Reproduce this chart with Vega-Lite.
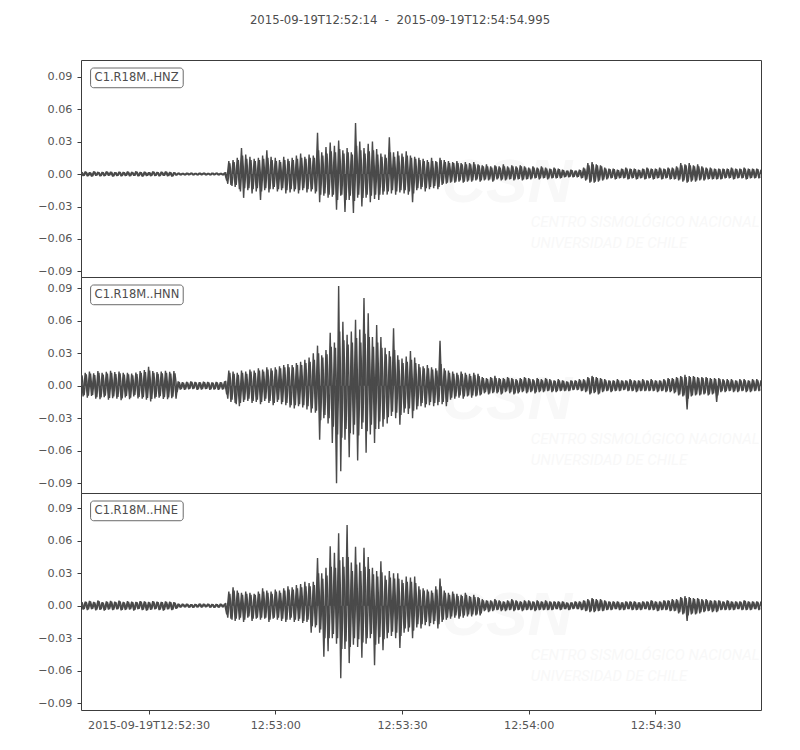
{
"$schema": "https://vega.github.io/schema/vega-lite/v6.json",
"padding": {"left": 30, "top": 14, "right": 30, "bottom": 20},
"background": "white",
"title": {"text": "2015-09-19T12:52:14\u00a0\u00a0-\u00a0\u00a02015-09-19T12:54:54.995", "font": "DejaVu Sans", "fontSize": 11.7, "fontWeight": "normal", "color": "#4d4d4d", "offset": 33, "anchor": "middle", "dx": 4},
"config": {
 "view": {"stroke": "#3c3c3c", "strokeWidth": 1},
 "axis": {"labelFont": "DejaVu Sans", "labelFontSize": 11.2, "labelColor": "#555555", "tickColor": "#3c3c3c", "tickSize": 4, "domain": false, "grid": false},
 "axisX": {"labelPadding": 5},
 "axisY": {"labelPadding": 5}
},
"spacing": 0,
"bounds": "flush",
"datasets": {"w": [
{"t":14,"z":0.002,"n":0.011,"e":0.004},
{"t":14.5,"z":-0.0018,"n":-0.010,"e":-0.0035},
{"t":15,"z":0.0022,"n":0.012,"e":0.0038},
{"t":15.5,"z":-0.002,"n":-0.011,"e":-0.004},
{"t":16,"z":0.0015,"n":0.013,"e":0.0045},
{"t":16.5,"z":-0.0022,"n":-0.0095,"e":-0.0032},
{"t":17,"z":0.0024,"n":0.0115,"e":0.0035},
{"t":17.5,"z":-0.0016,"n":-0.012,"e":-0.0042},
{"t":18,"z":0.0019,"n":0.0135,"e":0.0048},
{"t":18.5,"z":-0.0021,"n":-0.0125,"e":-0.0038},
{"t":19,"z":0.0017,"n":0.012,"e":0.0033},
{"t":19.5,"z":-0.0019,"n":-0.0105,"e":-0.0045},
{"t":20,"z":0.0023,"n":0.0128,"e":0.004},
{"t":20.5,"z":-0.0015,"n":-0.013,"e":-0.0036},
{"t":21,"z":0.002,"n":0.0138,"e":0.0044},
{"t":21.5,"z":-0.0023,"n":-0.0115,"e":-0.0041},
{"t":22,"z":0.0016,"n":0.0125,"e":0.0037},
{"t":22.5,"z":-0.0018,"n":-0.012,"e":-0.0034},
{"t":23,"z":0.0021,"n":0.013,"e":0.0046},
{"t":23.5,"z":-0.002,"n":-0.0135,"e":-0.0043},
{"t":24,"z":0.0018,"n":0.0118,"e":0.0034},
{"t":24.5,"z":-0.0017,"n":-0.0108,"e":-0.0039},
{"t":25,"z":0.0022,"n":0.012,"e":0.0041},
{"t":25.5,"z":-0.0021,"n":-0.0125,"e":-0.0035},
{"t":26,"z":0.0019,"n":0.0112,"e":0.0038},
{"t":26.5,"z":-0.0016,"n":-0.0098,"e":-0.0044},
{"t":27,"z":0.0024,"n":0.0122,"e":0.0036},
{"t":27.5,"z":-0.002,"n":-0.0118,"e":-0.0032},
{"t":28,"z":0.0017,"n":0.0135,"e":0.0042},
{"t":28.5,"z":-0.0022,"n":-0.012,"e":-0.004},
{"t":29,"z":0.0021,"n":0.0145,"e":0.0039},
{"t":29.5,"z":-0.0018,"n":-0.013,"e":-0.0046},
{"t":30,"z":0.0016,"n":0.0175,"e":0.0035},
{"t":30.5,"z":-0.0019,"n":-0.0145,"e":-0.0037},
{"t":31,"z":0.0023,"n":0.0135,"e":0.0043},
{"t":31.5,"z":-0.0017,"n":-0.0118,"e":-0.0033},
{"t":32,"z":0.0019,"n":0.0125,"e":0.0038},
{"t":32.5,"z":-0.0021,"n":-0.011,"e":-0.0041},
{"t":33,"z":0.002,"n":0.013,"e":0.0036},
{"t":33.5,"z":-0.0016,"n":-0.0122,"e":-0.0045},
{"t":34,"z":0.0022,"n":0.0138,"e":0.004},
{"t":34.5,"z":-0.0019,"n":-0.0125,"e":-0.0034},
{"t":35,"z":0.0018,"n":0.0128,"e":0.0037},
{"t":35.5,"z":-0.0022,"n":-0.0115,"e":-0.004},
{"t":36,"z":0.0015,"n":0.0135,"e":0.0032},
{"t":36.5,"z":-0.0012,"n":-0.012,"e":-0.0028},
{"t":37,"z":0.001,"n":0.004,"e":0.0018},
{"t":37.5,"z":-0.0009,"n":-0.0035,"e":-0.0015},
{"t":38,"z":0.0008,"n":0.0032,"e":0.0016},
{"t":38.5,"z":-0.001,"n":-0.0038,"e":-0.0014},
{"t":39,"z":0.0009,"n":0.0036,"e":0.0017},
{"t":39.5,"z":-0.0008,"n":-0.0033,"e":-0.0016},
{"t":40,"z":0.001,"n":0.0039,"e":0.0013},
{"t":40.5,"z":-0.0009,"n":-0.0031,"e":-0.0017},
{"t":41,"z":0.0008,"n":0.0034,"e":0.0015},
{"t":41.5,"z":-0.001,"n":-0.0037,"e":-0.0014},
{"t":42,"z":0.0009,"n":0.0033,"e":0.0018},
{"t":42.5,"z":-0.0008,"n":-0.0036,"e":-0.0015},
{"t":43,"z":0.001,"n":0.0038,"e":0.0016},
{"t":43.5,"z":-0.0009,"n":-0.0032,"e":-0.0013},
{"t":44,"z":0.0008,"n":0.0035,"e":0.0017},
{"t":44.5,"z":-0.001,"n":-0.0039,"e":-0.0016},
{"t":45,"z":0.0009,"n":0.0031,"e":0.0014},
{"t":45.5,"z":-0.0008,"n":-0.0036,"e":-0.0018},
{"t":46,"z":0.001,"n":0.0034,"e":0.0015},
{"t":46.5,"z":-0.0009,"n":-0.0038,"e":-0.0016},
{"t":47,"z":0.0008,"n":0.0033,"e":0.0017},
{"t":47.5,"z":-0.001,"n":-0.0035,"e":-0.0014},
{"t":48,"z":0.0012,"n":0.004,"e":0.0018},
{"t":48.5,"z":-0.006,"n":-0.008,"e":-0.008},
{"t":49,"z":0.012,"n":0.014,"e":0.013},
{"t":49.5,"z":-0.010,"n":-0.015,"e":-0.012},
{"t":50,"z":0.013,"n":0.013,"e":0.017},
{"t":50.5,"z":-0.012,"n":-0.016,"e":-0.014},
{"t":51,"z":0.015,"n":0.012,"e":0.014},
{"t":51.5,"z":-0.014,"n":-0.019,"e":-0.013},
{"t":52,"z":0.024,"n":0.014,"e":0.012},
{"t":52.5,"z":-0.022,"n":-0.015,"e":-0.015},
{"t":53,"z":0.018,"n":0.013,"e":0.013},
{"t":53.5,"z":-0.015,"n":-0.014,"e":-0.011},
{"t":54,"z":0.016,"n":0.015,"e":0.012},
{"t":54.5,"z":-0.018,"n":-0.016,"e":-0.014},
{"t":55,"z":0.014,"n":0.014,"e":0.011},
{"t":55.5,"z":-0.016,"n":-0.015,"e":-0.012},
{"t":56,"z":0.015,"n":0.016,"e":0.013},
{"t":56.5,"z":-0.024,"n":-0.017,"e":-0.013},
{"t":57,"z":0.017,"n":0.015,"e":0.016},
{"t":57.5,"z":-0.015,"n":-0.014,"e":-0.012},
{"t":58,"z":0.022,"n":0.017,"e":0.014},
{"t":58.5,"z":-0.017,"n":-0.016,"e":-0.015},
{"t":59,"z":0.016,"n":0.016,"e":0.013},
{"t":59.5,"z":-0.014,"n":-0.018,"e":-0.012},
{"t":60,"z":0.015,"n":0.017,"e":0.015},
{"t":60.5,"z":-0.016,"n":-0.015,"e":-0.013},
{"t":61,"z":0.013,"n":0.018,"e":0.014},
{"t":61.5,"z":-0.015,"n":-0.017,"e":-0.014},
{"t":62,"z":0.016,"n":0.019,"e":0.016},
{"t":62.5,"z":-0.018,"n":-0.018,"e":-0.015},
{"t":63,"z":0.014,"n":0.020,"e":0.018},
{"t":63.5,"z":-0.017,"n":-0.020,"e":-0.013},
{"t":64,"z":0.015,"n":0.019,"e":0.017},
{"t":64.5,"z":-0.016,"n":-0.021,"e":-0.015},
{"t":65,"z":0.017,"n":0.021,"e":0.019},
{"t":65.5,"z":-0.018,"n":-0.019,"e":-0.014},
{"t":66,"z":0.019,"n":0.022,"e":0.020},
{"t":66.5,"z":-0.015,"n":-0.020,"e":-0.016},
{"t":67,"z":0.016,"n":0.024,"e":0.022},
{"t":67.5,"z":-0.017,"n":-0.022,"e":-0.015},
{"t":68,"z":0.018,"n":0.026,"e":0.021},
{"t":68.5,"z":-0.016,"n":-0.025,"e":-0.025},
{"t":69,"z":0.017,"n":0.030,"e":0.022},
{"t":69.5,"z":-0.018,"n":-0.025,"e":-0.020},
{"t":70,"z":0.038,"n":0.037,"e":0.044},
{"t":70.5,"z":-0.026,"n":-0.050,"e":-0.025},
{"t":71,"z":0.020,"n":0.028,"e":0.030},
{"t":71.5,"z":-0.020,"n":-0.030,"e":-0.047},
{"t":72,"z":0.025,"n":0.033,"e":0.035},
{"t":72.5,"z":-0.022,"n":-0.035,"e":-0.042},
{"t":73,"z":0.029,"n":0.049,"e":0.055},
{"t":73.5,"z":-0.021,"n":-0.053,"e":-0.030},
{"t":74,"z":0.026,"n":0.040,"e":0.049},
{"t":74.5,"z":-0.033,"n":-0.090,"e":-0.035},
{"t":75,"z":0.031,"n":0.092,"e":0.067},
{"t":75.5,"z":-0.020,"n":-0.079,"e":-0.067},
{"t":76,"z":0.022,"n":0.059,"e":0.045},
{"t":76.5,"z":-0.035,"n":-0.050,"e":-0.040},
{"t":77,"z":0.024,"n":0.047,"e":0.0745},
{"t":77.5,"z":-0.024,"n":-0.066,"e":-0.053},
{"t":78,"z":0.020,"n":0.050,"e":0.040},
{"t":78.5,"z":-0.036,"n":-0.045,"e":-0.036},
{"t":79,"z":0.047,"n":0.061,"e":0.0545},
{"t":79.5,"z":-0.022,"n":-0.069,"e":-0.038},
{"t":80,"z":0.030,"n":0.052,"e":0.040},
{"t":80.5,"z":-0.030,"n":-0.040,"e":-0.048},
{"t":81,"z":0.024,"n":0.081,"e":0.0535},
{"t":81.5,"z":-0.022,"n":-0.062,"e":-0.035},
{"t":82,"z":0.028,"n":0.067,"e":0.045},
{"t":82.5,"z":-0.026,"n":-0.045,"e":-0.030},
{"t":83,"z":0.030,"n":0.045,"e":0.035},
{"t":83.5,"z":-0.023,"n":-0.053,"e":-0.055},
{"t":84,"z":0.023,"n":0.056,"e":0.032},
{"t":84.5,"z":-0.024,"n":-0.040,"e":-0.035},
{"t":85,"z":0.019,"n":0.045,"e":0.041},
{"t":85.5,"z":-0.019,"n":-0.038,"e":-0.041},
{"t":86,"z":0.018,"n":0.035,"e":0.028},
{"t":86.5,"z":-0.019,"n":-0.035,"e":-0.030},
{"t":87,"z":0.034,"n":0.032,"e":0.032},
{"t":87.5,"z":-0.018,"n":-0.028,"e":-0.028},
{"t":88,"z":0.020,"n":0.053,"e":0.030},
{"t":88.5,"z":-0.019,"n":-0.030,"e":-0.030},
{"t":89,"z":0.021,"n":0.028,"e":0.030},
{"t":89.5,"z":-0.017,"n":-0.036,"e":-0.039},
{"t":90,"z":0.019,"n":0.025,"e":0.024},
{"t":90.5,"z":-0.018,"n":-0.025,"e":-0.025},
{"t":91,"z":0.021,"n":0.027,"e":0.027},
{"t":91.5,"z":-0.019,"n":-0.026,"e":-0.024},
{"t":92,"z":0.017,"n":0.032,"e":0.026},
{"t":92.5,"z":-0.026,"n":-0.030,"e":-0.030},
{"t":93,"z":0.016,"n":0.026,"e":0.027},
{"t":93.5,"z":-0.015,"n":-0.022,"e":-0.020},
{"t":94,"z":0.015,"n":0.020,"e":0.018},
{"t":94.5,"z":-0.014,"n":-0.019,"e":-0.021},
{"t":95,"z":0.014,"n":0.018,"e":0.016},
{"t":95.5,"z":-0.016,"n":-0.020,"e":-0.018},
{"t":96,"z":0.013,"n":0.019,"e":0.015},
{"t":96.5,"z":-0.014,"n":-0.018,"e":-0.019},
{"t":97,"z":0.015,"n":0.017,"e":0.014},
{"t":97.5,"z":-0.013,"n":-0.019,"e":-0.017},
{"t":98,"z":0.012,"n":0.016,"e":0.018},
{"t":98.5,"z":-0.014,"n":-0.018,"e":-0.021},
{"t":99,"z":0.015,"n":0.0415,"e":0.025},
{"t":99.5,"z":-0.010,"n":-0.017,"e":-0.015},
{"t":100,"z":0.013,"n":0.016,"e":0.014},
{"t":100.5,"z":-0.009,"n":-0.019,"e":-0.013},
{"t":101,"z":0.012,"n":0.014,"e":0.012},
{"t":101.5,"z":-0.008,"n":-0.013,"e":-0.012},
{"t":102,"z":0.011,"n":0.013,"e":0.013},
{"t":102.5,"z":-0.008,"n":-0.012,"e":-0.011},
{"t":103,"z":0.012,"n":0.012,"e":0.011},
{"t":103.5,"z":-0.007,"n":-0.011,"e":-0.012},
{"t":104,"z":0.010,"n":0.013,"e":0.010},
{"t":104.5,"z":-0.008,"n":-0.012,"e":-0.011},
{"t":105,"z":0.011,"n":0.012,"e":0.012},
{"t":105.5,"z":-0.007,"n":-0.010,"e":-0.010},
{"t":106,"z":0.010,"n":0.011,"e":0.009},
{"t":106.5,"z":-0.007,"n":-0.011,"e":-0.010},
{"t":107,"z":0.011,"n":0.012,"e":0.010},
{"t":107.5,"z":-0.006,"n":-0.010,"e":-0.009},
{"t":108,"z":0.009,"n":0.011,"e":0.008},
{"t":108.5,"z":-0.007,"n":-0.009,"e":-0.009},
{"t":109,"z":0.008,"n":0.008,"e":0.006},
{"t":109.5,"z":-0.006,"n":-0.007,"e":-0.005},
{"t":110,"z":0.009,"n":0.007,"e":0.005},
{"t":110.5,"z":-0.006,"n":-0.008,"e":-0.006},
{"t":111,"z":0.007,"n":0.008,"e":0.005},
{"t":111.5,"z":-0.007,"n":-0.007,"e":-0.005},
{"t":112,"z":0.008,"n":0.009,"e":0.006},
{"t":112.5,"z":-0.005,"n":-0.007,"e":-0.004},
{"t":113,"z":0.007,"n":0.007,"e":0.005},
{"t":113.5,"z":-0.006,"n":-0.008,"e":-0.005},
{"t":114,"z":0.009,"n":0.007,"e":0.004},
{"t":114.5,"z":-0.006,"n":-0.006,"e":-0.005},
{"t":115,"z":0.007,"n":0.008,"e":0.005},
{"t":115.5,"z":-0.005,"n":-0.007,"e":-0.004},
{"t":116,"z":0.008,"n":0.007,"e":0.006},
{"t":116.5,"z":-0.006,"n":-0.008,"e":-0.005},
{"t":117,"z":0.007,"n":0.006,"e":0.005},
{"t":117.5,"z":-0.005,"n":-0.007,"e":-0.004},
{"t":118,"z":0.008,"n":0.007,"e":0.004},
{"t":118.5,"z":-0.006,"n":-0.006,"e":-0.005},
{"t":119,"z":0.007,"n":0.008,"e":0.005},
{"t":119.5,"z":-0.005,"n":-0.007,"e":-0.004},
{"t":120,"z":0.006,"n":0.007,"e":0.005},
{"t":120.5,"z":-0.005,"n":-0.006,"e":-0.004},
{"t":121,"z":0.007,"n":0.006,"e":0.004},
{"t":121.5,"z":-0.004,"n":-0.007,"e":-0.005},
{"t":122,"z":0.006,"n":0.007,"e":0.005},
{"t":122.5,"z":-0.005,"n":-0.006,"e":-0.004},
{"t":123,"z":0.007,"n":0.006,"e":0.004},
{"t":123.5,"z":-0.004,"n":-0.006,"e":-0.004},
{"t":124,"z":0.006,"n":0.007,"e":0.005},
{"t":124.5,"z":-0.005,"n":-0.005,"e":-0.004},
{"t":125,"z":0.005,"n":0.006,"e":0.004},
{"t":125.5,"z":-0.004,"n":-0.006,"e":-0.004},
{"t":126,"z":0.006,"n":0.005,"e":0.004},
{"t":126.5,"z":-0.004,"n":-0.006,"e":-0.003},
{"t":127,"z":0.005,"n":0.006,"e":0.004},
{"t":127.5,"z":-0.004,"n":-0.005,"e":-0.004},
{"t":128,"z":0.004,"n":0.005,"e":0.004},
{"t":128.5,"z":-0.003,"n":-0.005,"e":-0.003},
{"t":129,"z":0.003,"n":0.004,"e":0.003},
{"t":129.5,"z":-0.003,"n":-0.005,"e":-0.004},
{"t":130,"z":0.004,"n":0.005,"e":0.003},
{"t":130.5,"z":-0.003,"n":-0.004,"e":-0.003},
{"t":131,"z":0.003,"n":0.005,"e":0.004},
{"t":131.5,"z":-0.003,"n":-0.004,"e":-0.003},
{"t":132,"z":0.004,"n":0.006,"e":0.004},
{"t":132.5,"z":-0.004,"n":-0.005,"e":-0.004},
{"t":133,"z":0.006,"n":0.006,"e":0.005},
{"t":133.5,"z":-0.006,"n":-0.006,"e":-0.005},
{"t":134,"z":0.010,"n":0.008,"e":0.006},
{"t":134.5,"z":-0.008,"n":-0.008,"e":-0.006},
{"t":135,"z":0.011,"n":0.009,"e":0.007},
{"t":135.5,"z":-0.008,"n":-0.007,"e":-0.006},
{"t":136,"z":0.009,"n":0.008,"e":0.006},
{"t":136.5,"z":-0.007,"n":-0.008,"e":-0.005},
{"t":137,"z":0.008,"n":0.007,"e":0.006},
{"t":137.5,"z":-0.006,"n":-0.006,"e":-0.005},
{"t":138,"z":0.006,"n":0.006,"e":0.005},
{"t":138.5,"z":-0.005,"n":-0.005,"e":-0.004},
{"t":139,"z":0.005,"n":0.005,"e":0.004},
{"t":139.5,"z":-0.004,"n":-0.006,"e":-0.004},
{"t":140,"z":0.005,"n":0.005,"e":0.004},
{"t":140.5,"z":-0.005,"n":-0.005,"e":-0.003},
{"t":141,"z":0.004,"n":0.006,"e":0.004},
{"t":141.5,"z":-0.004,"n":-0.005,"e":-0.004},
{"t":142,"z":0.005,"n":0.005,"e":0.003},
{"t":142.5,"z":-0.004,"n":-0.004,"e":-0.004},
{"t":143,"z":0.006,"n":0.005,"e":0.004},
{"t":143.5,"z":-0.005,"n":-0.005,"e":-0.003},
{"t":144,"z":0.005,"n":0.006,"e":0.004},
{"t":144.5,"z":-0.004,"n":-0.005,"e":-0.004},
{"t":145,"z":0.005,"n":0.005,"e":0.004},
{"t":145.5,"z":-0.005,"n":-0.006,"e":-0.004},
{"t":146,"z":0.004,"n":0.005,"e":0.003},
{"t":146.5,"z":-0.004,"n":-0.005,"e":-0.004},
{"t":147,"z":0.005,"n":0.006,"e":0.004},
{"t":147.5,"z":-0.005,"n":-0.005,"e":-0.003},
{"t":148,"z":0.006,"n":0.005,"e":0.004},
{"t":148.5,"z":-0.004,"n":-0.005,"e":-0.004},
{"t":149,"z":0.005,"n":0.006,"e":0.005},
{"t":149.5,"z":-0.005,"n":-0.005,"e":-0.004},
{"t":150,"z":0.005,"n":0.005,"e":0.004},
{"t":150.5,"z":-0.004,"n":-0.006,"e":-0.005},
{"t":151,"z":0.006,"n":0.005,"e":0.004},
{"t":151.5,"z":-0.005,"n":-0.005,"e":-0.004},
{"t":152,"z":0.005,"n":0.006,"e":0.005},
{"t":152.5,"z":-0.004,"n":-0.006,"e":-0.004},
{"t":153,"z":0.006,"n":0.007,"e":0.005},
{"t":153.5,"z":-0.005,"n":-0.006,"e":-0.005},
{"t":154,"z":0.006,"n":0.007,"e":0.006},
{"t":154.5,"z":-0.005,"n":-0.007,"e":-0.005},
{"t":155,"z":0.007,"n":0.008,"e":0.006},
{"t":155.5,"z":-0.006,"n":-0.009,"e":-0.007},
{"t":156,"z":0.010,"n":0.009,"e":0.008},
{"t":156.5,"z":-0.007,"n":-0.010,"e":-0.008},
{"t":157,"z":0.009,"n":0.010,"e":0.009},
{"t":157.5,"z":-0.008,"n":-0.022,"e":-0.014},
{"t":158,"z":0.010,"n":0.009,"e":0.008},
{"t":158.5,"z":-0.007,"n":-0.010,"e":-0.008},
{"t":159,"z":0.008,"n":0.009,"e":0.007},
{"t":159.5,"z":-0.007,"n":-0.009,"e":-0.008},
{"t":160,"z":0.009,"n":0.008,"e":0.007},
{"t":160.5,"z":-0.006,"n":-0.009,"e":-0.007},
{"t":161,"z":0.007,"n":0.008,"e":0.006},
{"t":161.5,"z":-0.006,"n":-0.008,"e":-0.006},
{"t":162,"z":0.006,"n":0.008,"e":0.006},
{"t":162.5,"z":-0.005,"n":-0.009,"e":-0.005},
{"t":163,"z":0.006,"n":0.007,"e":0.005},
{"t":163.5,"z":-0.005,"n":-0.008,"e":-0.006},
{"t":164,"z":0.005,"n":0.007,"e":0.005},
{"t":164.5,"z":-0.005,"n":-0.015,"e":-0.006},
{"t":165,"z":0.005,"n":0.007,"e":0.005},
{"t":165.5,"z":-0.005,"n":-0.006,"e":-0.004},
{"t":166,"z":0.005,"n":0.006,"e":0.004},
{"t":166.5,"z":-0.004,"n":-0.006,"e":-0.004},
{"t":167,"z":0.005,"n":0.006,"e":0.005},
{"t":167.5,"z":-0.004,"n":-0.005,"e":-0.004},
{"t":168,"z":0.006,"n":0.006,"e":0.004},
{"t":168.5,"z":-0.005,"n":-0.006,"e":-0.004},
{"t":169,"z":0.005,"n":0.005,"e":0.004},
{"t":169.5,"z":-0.004,"n":-0.006,"e":-0.003},
{"t":170,"z":0.005,"n":0.006,"e":0.004},
{"t":170.5,"z":-0.004,"n":-0.005,"e":-0.004},
{"t":171,"z":0.006,"n":0.006,"e":0.005},
{"t":171.5,"z":-0.005,"n":-0.006,"e":-0.004},
{"t":172,"z":0.005,"n":0.005,"e":0.004},
{"t":172.5,"z":-0.004,"n":-0.006,"e":-0.004},
{"t":173,"z":0.005,"n":0.006,"e":0.004},
{"t":173.5,"z":-0.004,"n":-0.005,"e":-0.003},
{"t":174,"z":0.005,"n":0.006,"e":0.004},
{"t":174.5,"z":-0.004,"n":-0.005,"e":-0.004},
{"t":174.99,"z":0.004,"n":0.005,"e":0.004}
],
"w2": [
{"t":14.25,"z":0.0017,"n":0.0095,"e":0.0033},
{"t":14.75,"z":-0.0015,"n":-0.0088,"e":-0.0030},
{"t":15.25,"z":0.0019,"n":0.0105,"e":0.0036},
{"t":15.75,"z":-0.0017,"n":-0.0092,"e":-0.0034},
{"t":16.25,"z":0.0014,"n":0.0112,"e":0.0040},
{"t":16.75,"z":-0.0019,"n":-0.0085,"e":-0.0029},
{"t":17.25,"z":0.0020,"n":0.0098,"e":0.0031},
{"t":17.75,"z":-0.0013,"n":-0.0105,"e":-0.0036},
{"t":18.25,"z":0.0016,"n":0.0118,"e":0.0041},
{"t":18.75,"z":-0.0018,"n":-0.0108,"e":-0.0033},
{"t":19.25,"z":0.0015,"n":0.0102,"e":0.0029},
{"t":19.75,"z":-0.0016,"n":-0.0093,"e":-0.0039},
{"t":20.25,"z":0.0019,"n":0.0112,"e":0.0035},
{"t":20.75,"z":-0.0013,"n":-0.0114,"e":-0.0031},
{"t":21.25,"z":0.0017,"n":0.0120,"e":0.0038},
{"t":21.75,"z":-0.0020,"n":-0.0100,"e":-0.0035},
{"t":22.25,"z":0.0014,"n":0.0108,"e":0.0032},
{"t":22.75,"z":-0.0015,"n":-0.0104,"e":-0.0030},
{"t":23.25,"z":0.0018,"n":0.0115,"e":0.0040},
{"t":23.75,"z":-0.0017,"n":-0.0118,"e":-0.0037},
{"t":24.25,"z":0.0015,"n":0.0102,"e":0.0030},
{"t":24.75,"z":-0.0014,"n":-0.0094,"e":-0.0034},
{"t":25.25,"z":0.0019,"n":0.0105,"e":0.0036},
{"t":25.75,"z":-0.0018,"n":-0.0110,"e":-0.0031},
{"t":26.25,"z":0.0016,"n":0.0097,"e":0.0033},
{"t":26.75,"z":-0.0014,"n":-0.0086,"e":-0.0038},
{"t":27.25,"z":0.0020,"n":0.0107,"e":0.0032},
{"t":27.75,"z":-0.0017,"n":-0.0103,"e":-0.0028},
{"t":28.25,"z":0.0015,"n":0.0118,"e":0.0037},
{"t":28.75,"z":-0.0019,"n":-0.0105,"e":-0.0035},
{"t":29.25,"z":0.0018,"n":0.0126,"e":0.0034},
{"t":29.75,"z":-0.0015,"n":-0.0114,"e":-0.0040},
{"t":30.25,"z":0.0014,"n":0.0140,"e":0.0031},
{"t":30.75,"z":-0.0016,"n":-0.0122,"e":-0.0032},
{"t":31.25,"z":0.0019,"n":0.0118,"e":0.0038},
{"t":31.75,"z":-0.0015,"n":-0.0103,"e":-0.0029},
{"t":32.25,"z":0.0016,"n":0.0109,"e":0.0033},
{"t":32.75,"z":-0.0018,"n":-0.0096,"e":-0.0036},
{"t":33.25,"z":0.0017,"n":0.0114,"e":0.0032},
{"t":33.75,"z":-0.0014,"n":-0.0107,"e":-0.0039},
{"t":34.25,"z":0.0019,"n":0.0120,"e":0.0035},
{"t":34.75,"z":-0.0016,"n":-0.0109,"e":-0.0030},
{"t":35.25,"z":0.0015,"n":0.0112,"e":0.0032},
{"t":35.75,"z":-0.0019,"n":-0.0101,"e":-0.0035},
{"t":36.25,"z":0.0013,"n":0.0115,"e":0.0028},
{"t":36.75,"z":-0.0010,"n":-0.0060,"e":-0.0022},
{"t":37.25,"z":0.0009,"n":0.0034,"e":0.0015},
{"t":37.75,"z":-0.0008,"n":-0.0030,"e":-0.0013},
{"t":38.25,"z":0.0007,"n":0.0028,"e":0.0014},
{"t":38.75,"z":-0.0009,"n":-0.0033,"e":-0.0012},
{"t":39.25,"z":0.0008,"n":0.0031,"e":0.0015},
{"t":39.75,"z":-0.0007,"n":-0.0029,"e":-0.0014},
{"t":40.25,"z":0.0009,"n":0.0034,"e":0.0011},
{"t":40.75,"z":-0.0008,"n":-0.0027,"e":-0.0015},
{"t":41.25,"z":0.0007,"n":0.0030,"e":0.0013},
{"t":41.75,"z":-0.0009,"n":-0.0032,"e":-0.0012},
{"t":42.25,"z":0.0008,"n":0.0029,"e":0.0016},
{"t":42.75,"z":-0.0007,"n":-0.0031,"e":-0.0013},
{"t":43.25,"z":0.0009,"n":0.0033,"e":0.0014},
{"t":43.75,"z":-0.0008,"n":-0.0028,"e":-0.0011},
{"t":44.25,"z":0.0007,"n":0.0030,"e":0.0015},
{"t":44.75,"z":-0.0009,"n":-0.0034,"e":-0.0014},
{"t":45.25,"z":0.0008,"n":0.0027,"e":0.0012},
{"t":45.75,"z":-0.0007,"n":-0.0031,"e":-0.0016},
{"t":46.25,"z":0.0009,"n":0.0030,"e":0.0013},
{"t":46.75,"z":-0.0008,"n":-0.0033,"e":-0.0014},
{"t":47.25,"z":0.0007,"n":0.0029,"e":0.0015},
{"t":47.75,"z":-0.0009,"n":-0.0030,"e":-0.0012},
{"t":48.25,"z":0.0015,"n":0.0045,"e":0.0025},
{"t":48.75,"z":-0.009,"n":-0.012,"e":-0.011},
{"t":49.25,"z":0.010,"n":0.012,"e":0.011},
{"t":49.75,"z":-0.011,"n":-0.013,"e":-0.013},
{"t":50.25,"z":0.011,"n":0.011,"e":0.014},
{"t":50.75,"z":-0.010,"n":-0.017,"e":-0.012},
{"t":51.25,"z":0.013,"n":0.010,"e":0.012},
{"t":51.75,"z":-0.016,"n":-0.016,"e":-0.011},
{"t":52.25,"z":0.017,"n":0.012,"e":0.010},
{"t":52.75,"z":-0.013,"n":-0.013,"e":-0.013},
{"t":53.25,"z":0.014,"n":0.011,"e":0.011},
{"t":53.75,"z":-0.013,"n":-0.012,"e":-0.010},
{"t":54.25,"z":0.013,"n":0.013,"e":0.010},
{"t":54.75,"z":-0.014,"n":-0.014,"e":-0.012},
{"t":55.25,"z":0.012,"n":0.012,"e":0.010},
{"t":55.75,"z":-0.013,"n":-0.013,"e":-0.011},
{"t":56.25,"z":0.013,"n":0.014,"e":0.011},
{"t":56.75,"z":-0.016,"n":-0.015,"e":-0.011},
{"t":57.25,"z":0.014,"n":0.013,"e":0.013},
{"t":57.75,"z":-0.013,"n":-0.012,"e":-0.011},
{"t":58.25,"z":0.015,"n":0.015,"e":0.012},
{"t":58.75,"z":-0.014,"n":-0.014,"e":-0.013},
{"t":59.25,"z":0.013,"n":0.014,"e":0.011},
{"t":59.75,"z":-0.012,"n":-0.016,"e":-0.011},
{"t":60.25,"z":0.012,"n":0.015,"e":0.013},
{"t":60.75,"z":-0.014,"n":-0.013,"e":-0.011},
{"t":61.25,"z":0.011,"n":0.016,"e":0.012},
{"t":61.75,"z":-0.013,"n":-0.015,"e":-0.012},
{"t":62.25,"z":0.013,"n":0.017,"e":0.014},
{"t":62.75,"z":-0.015,"n":-0.016,"e":-0.013},
{"t":63.25,"z":0.012,"n":0.017,"e":0.015},
{"t":63.75,"z":-0.014,"n":-0.018,"e":-0.011},
{"t":64.25,"z":0.013,"n":0.017,"e":0.015},
{"t":64.75,"z":-0.014,"n":-0.018,"e":-0.013},
{"t":65.25,"z":0.014,"n":0.019,"e":0.016},
{"t":65.75,"z":-0.015,"n":-0.017,"e":-0.012},
{"t":66.25,"z":0.015,"n":0.019,"e":0.017},
{"t":66.75,"z":-0.013,"n":-0.018,"e":-0.014},
{"t":67.25,"z":0.014,"n":0.021,"e":0.018},
{"t":67.75,"z":-0.014,"n":-0.019,"e":-0.013},
{"t":68.25,"z":0.015,"n":0.022,"e":0.018},
{"t":68.75,"z":-0.014,"n":-0.021,"e":-0.019},
{"t":69.25,"z":0.015,"n":0.024,"e":0.019},
{"t":69.75,"z":-0.016,"n":-0.023,"e":-0.018},
{"t":70.25,"z":0.022,"n":0.030,"e":0.030},
{"t":70.75,"z":-0.019,"n":-0.032,"e":-0.022},
{"t":71.25,"z":0.017,"n":0.026,"e":0.025},
{"t":71.75,"z":-0.018,"n":-0.027,"e":-0.030},
{"t":72.25,"z":0.019,"n":0.029,"e":0.028},
{"t":72.75,"z":-0.019,"n":-0.030,"e":-0.030},
{"t":73.25,"z":0.021,"n":0.036,"e":0.036},
{"t":73.75,"z":-0.019,"n":-0.038,"e":-0.026},
{"t":74.25,"z":0.020,"n":0.035,"e":0.035},
{"t":74.75,"z":-0.024,"n":-0.045,"e":-0.030},
{"t":75.25,"z":0.023,"n":0.050,"e":0.042},
{"t":75.75,"z":-0.019,"n":-0.048,"e":-0.040},
{"t":76.25,"z":0.019,"n":0.042,"e":0.036},
{"t":76.75,"z":-0.024,"n":-0.040,"e":-0.033},
{"t":77.25,"z":0.020,"n":0.038,"e":0.045},
{"t":77.75,"z":-0.020,"n":-0.044,"e":-0.038},
{"t":78.25,"z":0.018,"n":0.040,"e":0.032},
{"t":78.75,"z":-0.025,"n":-0.036,"e":-0.030},
{"t":79.25,"z":0.026,"n":0.044,"e":0.038},
{"t":79.75,"z":-0.019,"n":-0.046,"e":-0.031},
{"t":80.25,"z":0.022,"n":0.040,"e":0.032},
{"t":80.75,"z":-0.022,"n":-0.034,"e":-0.034},
{"t":81.25,"z":0.019,"n":0.048,"e":0.036},
{"t":81.75,"z":-0.019,"n":-0.042,"e":-0.030},
{"t":82.25,"z":0.021,"n":0.045,"e":0.034},
{"t":82.75,"z":-0.020,"n":-0.036,"e":-0.026},
{"t":83.25,"z":0.022,"n":0.036,"e":0.029},
{"t":83.75,"z":-0.019,"n":-0.040,"e":-0.036},
{"t":84.25,"z":0.018,"n":0.040,"e":0.027},
{"t":84.75,"z":-0.019,"n":-0.033,"e":-0.029},
{"t":85.25,"z":0.016,"n":0.035,"e":0.031},
{"t":85.75,"z":-0.016,"n":-0.031,"e":-0.031},
{"t":86.25,"z":0.015,"n":0.029,"e":0.024},
{"t":86.75,"z":-0.016,"n":-0.029,"e":-0.025},
{"t":87.25,"z":0.020,"n":0.027,"e":0.026},
{"t":87.75,"z":-0.015,"n":-0.024,"e":-0.024},
{"t":88.25,"z":0.016,"n":0.033,"e":0.025},
{"t":88.75,"z":-0.016,"n":-0.025,"e":-0.025},
{"t":89.25,"z":0.017,"n":0.024,"e":0.025},
{"t":89.75,"z":-0.015,"n":-0.027,"e":-0.028},
{"t":90.25,"z":0.016,"n":0.021,"e":0.021},
{"t":90.75,"z":-0.015,"n":-0.021,"e":-0.021},
{"t":91.25,"z":0.017,"n":0.022,"e":0.022},
{"t":91.75,"z":-0.016,"n":-0.021,"e":-0.020},
{"t":92.25,"z":0.015,"n":0.024,"e":0.022},
{"t":92.75,"z":-0.018,"n":-0.023,"e":-0.023},
{"t":93.25,"z":0.014,"n":0.021,"e":0.021},
{"t":93.75,"z":-0.013,"n":-0.019,"e":-0.017},
{"t":94.25,"z":0.013,"n":0.017,"e":0.015},
{"t":94.75,"z":-0.012,"n":-0.016,"e":-0.017},
{"t":95.25,"z":0.012,"n":0.016,"e":0.014},
{"t":95.75,"z":-0.013,"n":-0.017,"e":-0.015},
{"t":96.25,"z":0.011,"n":0.016,"e":0.013},
{"t":96.75,"z":-0.012,"n":-0.015,"e":-0.016},
{"t":97.25,"z":0.012,"n":0.015,"e":0.012},
{"t":97.75,"z":-0.011,"n":-0.016,"e":-0.014},
{"t":98.25,"z":0.011,"n":0.014,"e":0.015},
{"t":98.75,"z":-0.012,"n":-0.015,"e":-0.017},
{"t":99.25,"z":0.013,"n":0.020,"e":0.018},
{"t":99.75,"z":-0.009,"n":-0.015,"e":-0.013},
{"t":100.25,"z":0.011,"n":0.014,"e":0.012},
{"t":100.75,"z":-0.008,"n":-0.015,"e":-0.011},
{"t":101.25,"z":0.010,"n":0.012,"e":0.010},
{"t":101.75,"z":-0.007,"n":-0.011,"e":-0.010},
{"t":102.25,"z":0.010,"n":0.011,"e":0.011},
{"t":102.75,"z":-0.007,"n":-0.010,"e":-0.009},
{"t":103.25,"z":0.010,"n":0.010,"e":0.009},
{"t":103.75,"z":-0.006,"n":-0.009,"e":-0.010},
{"t":104.25,"z":0.009,"n":0.011,"e":0.009},
{"t":104.75,"z":-0.007,"n":-0.010,"e":-0.009},
{"t":105.25,"z":0.009,"n":0.010,"e":0.010},
{"t":105.75,"z":-0.006,"n":-0.009,"e":-0.008},
{"t":106.25,"z":0.009,"n":0.009,"e":0.008},
{"t":106.75,"z":-0.006,"n":-0.009,"e":-0.008},
{"t":107.25,"z":0.009,"n":0.010,"e":0.008},
{"t":107.75,"z":-0.005,"n":-0.009,"e":-0.008},
{"t":108.25,"z":0.008,"n":0.009,"e":0.007},
{"t":108.75,"z":-0.006,"n":-0.008,"e":-0.007},
{"t":109.25,"z":0.007,"n":0.007,"e":0.005},
{"t":109.75,"z":-0.005,"n":-0.006,"e":-0.004},
{"t":110.25,"z":0.007,"n":0.006,"e":0.0045},
{"t":110.75,"z":-0.005,"n":-0.007,"e":-0.005},
{"t":111.25,"z":0.006,"n":0.007,"e":0.004},
{"t":111.75,"z":-0.006,"n":-0.006,"e":-0.004},
{"t":112.25,"z":0.007,"n":0.007,"e":0.005},
{"t":112.75,"z":-0.004,"n":-0.006,"e":-0.0035},
{"t":113.25,"z":0.006,"n":0.006,"e":0.004},
{"t":113.75,"z":-0.005,"n":-0.007,"e":-0.004},
{"t":114.25,"z":0.007,"n":0.006,"e":0.0035},
{"t":114.75,"z":-0.005,"n":-0.005,"e":-0.004},
{"t":115.25,"z":0.006,"n":0.007,"e":0.004},
{"t":115.75,"z":-0.0045,"n":-0.006,"e":-0.0035},
{"t":116.25,"z":0.007,"n":0.006,"e":0.005},
{"t":116.75,"z":-0.005,"n":-0.007,"e":-0.004},
{"t":117.25,"z":0.006,"n":0.005,"e":0.004},
{"t":117.75,"z":-0.0045,"n":-0.006,"e":-0.0035},
{"t":118.25,"z":0.007,"n":0.006,"e":0.0035},
{"t":118.75,"z":-0.005,"n":-0.005,"e":-0.004},
{"t":119.25,"z":0.006,"n":0.007,"e":0.004},
{"t":119.75,"z":-0.0045,"n":-0.006,"e":-0.0035},
{"t":120.25,"z":0.005,"n":0.006,"e":0.004},
{"t":120.75,"z":-0.004,"n":-0.005,"e":-0.0035},
{"t":121.25,"z":0.006,"n":0.005,"e":0.0035},
{"t":121.75,"z":-0.0035,"n":-0.006,"e":-0.004},
{"t":122.25,"z":0.005,"n":0.006,"e":0.004},
{"t":122.75,"z":-0.004,"n":-0.005,"e":-0.0035},
{"t":123.25,"z":0.006,"n":0.005,"e":0.0035},
{"t":123.75,"z":-0.0035,"n":-0.005,"e":-0.0035},
{"t":124.25,"z":0.005,"n":0.006,"e":0.004},
{"t":124.75,"z":-0.004,"n":-0.0045,"e":-0.0035},
{"t":125.25,"z":0.0045,"n":0.005,"e":0.0035},
{"t":125.75,"z":-0.0035,"n":-0.005,"e":-0.0035},
{"t":126.25,"z":0.005,"n":0.0045,"e":0.0035},
{"t":126.75,"z":-0.0035,"n":-0.005,"e":-0.003},
{"t":127.25,"z":0.0045,"n":0.005,"e":0.0035},
{"t":127.75,"z":-0.0035,"n":-0.0045,"e":-0.0035},
{"t":128.25,"z":0.0035,"n":0.0045,"e":0.0035},
{"t":128.75,"z":-0.0025,"n":-0.0045,"e":-0.003},
{"t":129.25,"z":0.003,"n":0.0035,"e":0.0025},
{"t":129.75,"z":-0.0025,"n":-0.0045,"e":-0.0035},
{"t":130.25,"z":0.0035,"n":0.0045,"e":0.003},
{"t":130.75,"z":-0.0025,"n":-0.0035,"e":-0.0025},
{"t":131.25,"z":0.003,"n":0.0045,"e":0.0035},
{"t":131.75,"z":-0.0025,"n":-0.0035,"e":-0.003},
{"t":132.25,"z":0.0035,"n":0.005,"e":0.0035},
{"t":132.75,"z":-0.0035,"n":-0.0045,"e":-0.0035},
{"t":133.25,"z":0.005,"n":0.005,"e":0.0045},
{"t":133.75,"z":-0.005,"n":-0.005,"e":-0.0045},
{"t":134.25,"z":0.008,"n":0.007,"e":0.005},
{"t":134.75,"z":-0.007,"n":-0.007,"e":-0.005},
{"t":135.25,"z":0.009,"n":0.008,"e":0.006},
{"t":135.75,"z":-0.007,"n":-0.006,"e":-0.005},
{"t":136.25,"z":0.008,"n":0.007,"e":0.005},
{"t":136.75,"z":-0.006,"n":-0.007,"e":-0.0045},
{"t":137.25,"z":0.007,"n":0.006,"e":0.005},
{"t":137.75,"z":-0.005,"n":-0.005,"e":-0.0045},
{"t":138.25,"z":0.005,"n":0.005,"e":0.004},
{"t":138.75,"z":-0.004,"n":-0.0045,"e":-0.0035},
{"t":139.25,"z":0.0045,"n":0.0045,"e":0.0035},
{"t":139.75,"z":-0.0035,"n":-0.005,"e":-0.0035},
{"t":140.25,"z":0.0045,"n":0.0045,"e":0.0035},
{"t":140.75,"z":-0.0045,"n":-0.0045,"e":-0.003},
{"t":141.25,"z":0.0035,"n":0.005,"e":0.0035},
{"t":141.75,"z":-0.0035,"n":-0.0045,"e":-0.0035},
{"t":142.25,"z":0.0045,"n":0.0045,"e":0.003},
{"t":142.75,"z":-0.0035,"n":-0.0035,"e":-0.0035},
{"t":143.25,"z":0.005,"n":0.0045,"e":0.0035},
{"t":143.75,"z":-0.0045,"n":-0.0045,"e":-0.003},
{"t":144.25,"z":0.0045,"n":0.005,"e":0.0035},
{"t":144.75,"z":-0.0035,"n":-0.0045,"e":-0.0035},
{"t":145.25,"z":0.0045,"n":0.0045,"e":0.0035},
{"t":145.75,"z":-0.0045,"n":-0.005,"e":-0.0035},
{"t":146.25,"z":0.0035,"n":0.0045,"e":0.003},
{"t":146.75,"z":-0.0035,"n":-0.0045,"e":-0.0035},
{"t":147.25,"z":0.0045,"n":0.005,"e":0.0035},
{"t":147.75,"z":-0.0045,"n":-0.0045,"e":-0.003},
{"t":148.25,"z":0.005,"n":0.0045,"e":0.0035},
{"t":148.75,"z":-0.0035,"n":-0.0045,"e":-0.0035},
{"t":149.25,"z":0.0045,"n":0.005,"e":0.0045},
{"t":149.75,"z":-0.0045,"n":-0.0045,"e":-0.0035},
{"t":150.25,"z":0.0045,"n":0.0045,"e":0.0035},
{"t":150.75,"z":-0.0035,"n":-0.005,"e":-0.0045},
{"t":151.25,"z":0.005,"n":0.0045,"e":0.0035},
{"t":151.75,"z":-0.0045,"n":-0.0045,"e":-0.0035},
{"t":152.25,"z":0.0045,"n":0.005,"e":0.0045},
{"t":152.75,"z":-0.0035,"n":-0.005,"e":-0.0035},
{"t":153.25,"z":0.005,"n":0.006,"e":0.0045},
{"t":153.75,"z":-0.0045,"n":-0.005,"e":-0.0045},
{"t":154.25,"z":0.005,"n":0.006,"e":0.005},
{"t":154.75,"z":-0.0045,"n":-0.006,"e":-0.0045},
{"t":155.25,"z":0.006,"n":0.007,"e":0.005},
{"t":155.75,"z":-0.005,"n":-0.008,"e":-0.006},
{"t":156.25,"z":0.008,"n":0.008,"e":0.007},
{"t":156.75,"z":-0.006,"n":-0.009,"e":-0.007},
{"t":157.25,"z":0.008,"n":0.008,"e":0.007},
{"t":157.75,"z":-0.007,"n":-0.012,"e":-0.009},
{"t":158.25,"z":0.008,"n":0.008,"e":0.007},
{"t":158.75,"z":-0.006,"n":-0.009,"e":-0.007},
{"t":159.25,"z":0.007,"n":0.008,"e":0.006},
{"t":159.75,"z":-0.006,"n":-0.008,"e":-0.007},
{"t":160.25,"z":0.007,"n":0.007,"e":0.006},
{"t":160.75,"z":-0.005,"n":-0.008,"e":-0.006},
{"t":161.25,"z":0.006,"n":0.007,"e":0.005},
{"t":161.75,"z":-0.005,"n":-0.007,"e":-0.005},
{"t":162.25,"z":0.005,"n":0.007,"e":0.005},
{"t":162.75,"z":-0.0045,"n":-0.008,"e":-0.0045},
{"t":163.25,"z":0.005,"n":0.006,"e":0.0045},
{"t":163.75,"z":-0.0045,"n":-0.007,"e":-0.005},
{"t":164.25,"z":0.0045,"n":0.006,"e":0.0045},
{"t":164.75,"z":-0.0045,"n":-0.009,"e":-0.005},
{"t":165.25,"z":0.0045,"n":0.006,"e":0.0045},
{"t":165.75,"z":-0.0045,"n":-0.005,"e":-0.0035},
{"t":166.25,"z":0.0045,"n":0.005,"e":0.0035},
{"t":166.75,"z":-0.0035,"n":-0.005,"e":-0.0035},
{"t":167.25,"z":0.0045,"n":0.005,"e":0.0045},
{"t":167.75,"z":-0.0035,"n":-0.0045,"e":-0.0035},
{"t":168.25,"z":0.005,"n":0.005,"e":0.0035},
{"t":168.75,"z":-0.0045,"n":-0.005,"e":-0.0035},
{"t":169.25,"z":0.0045,"n":0.0045,"e":0.0035},
{"t":169.75,"z":-0.0035,"n":-0.005,"e":-0.003},
{"t":170.25,"z":0.0045,"n":0.005,"e":0.0035},
{"t":170.75,"z":-0.0035,"n":-0.0045,"e":-0.0035},
{"t":171.25,"z":0.005,"n":0.005,"e":0.0045},
{"t":171.75,"z":-0.0045,"n":-0.005,"e":-0.0035},
{"t":172.25,"z":0.0045,"n":0.0045,"e":0.0035},
{"t":172.75,"z":-0.0035,"n":-0.005,"e":-0.0035},
{"t":173.25,"z":0.0045,"n":0.005,"e":0.0035},
{"t":173.75,"z":-0.0035,"n":-0.0045,"e":-0.003},
{"t":174.25,"z":0.0045,"n":0.005,"e":0.0035},
{"t":174.75,"z":-0.0035,"n":-0.0045,"e":-0.0035}
]},
"vconcat": [
{
 "width": 680, "height": 217,
 "layer": [
  {"data": {"values": [{"w": "CSN"}]}, "mark": {"type": "text", "font": "Liberation Sans", "fontSize": 62, "fontWeight": "bold", "fontStyle": "italic", "color": "#f8f8f8", "align": "center", "baseline": "alphabetic"},
   "encoding": {"x": {"datum": 114.8, "axis": null}, "y": {"datum": -0.0259, "axis": {"values": [-0.09, -0.06, -0.03, 0, 0.03, 0.06, 0.09], "labelExpr": "replace(format(datum.value, '.2f'), '-', '\u2212')", "title": null, "minExtent": 50, "maxExtent": 50}}, "text": {"field": "w"}}},
  {"data": {"values": [{"w": "CENTRO SISMOLÓGICO NACIONAL"}]}, "mark": {"type": "text", "font": "Roboto", "fontSize": 15, "fontStyle": "italic", "color": "#f8f8f8", "align": "left", "baseline": "top", "lineHeight": 21},
   "encoding": {"x": {"datum": 120.5, "axis": null}, "y": {"datum": -0.0379, "axis": {"values": [-0.09, -0.06, -0.03, 0, 0.03, 0.06, 0.09], "labelExpr": "replace(format(datum.value, '.2f'), '-', '\u2212')", "title": null, "minExtent": 50, "maxExtent": 50}}, "text": {"value": ["CENTRO SISMOLÓGICO NACIONAL", "UNIVERSIDAD DE CHILE"]}}},
  {"data": {"name": "w"}, "mark": {"type": "area", "color": "#4a4a4a", "clip": true},
   "encoding": {
    "x": {"field": "t", "type": "quantitative", "scale": {"domain": [14, 174.995], "nice": false, "zero": false}, "axis": null},
    "y": {"field": "z", "type": "quantitative", "scale": {"domain": [-0.0951, 0.1053], "nice": false, "zero": false}, "axis": {"values": [-0.09, -0.06, -0.03, 0, 0.03, 0.06, 0.09], "labelExpr": "replace(format(datum.value, '.2f'), '-', '\u2212')", "title": null, "minExtent": 50, "maxExtent": 50}},
    "y2": {"datum": 0}
   }},
  {"data": {"name": "w2"}, "mark": {"type": "line", "color": "#4a4a4a", "strokeWidth": 1.4, "strokeJoin": "bevel", "clip": true},
   "encoding": {
    "x": {"field": "t", "type": "quantitative", "scale": {"domain": [14, 174.995], "nice": false, "zero": false}, "axis": null},
    "y": {"field": "z", "type": "quantitative", "scale": {"domain": [-0.0951, 0.1053], "nice": false, "zero": false}, "axis": {"values": [-0.09, -0.06, -0.03, 0, 0.03, 0.06, 0.09], "labelExpr": "replace(format(datum.value, '.2f'), '-', '\u2212')", "title": null, "minExtent": 50, "maxExtent": 50}}
   }},
  {"data": {"name": "w"}, "mark": {"type": "line", "color": "#4a4a4a", "strokeWidth": 1.4, "strokeJoin": "bevel", "clip": true},
   "encoding": {
    "x": {"field": "t", "type": "quantitative", "scale": {"domain": [14, 174.995], "nice": false, "zero": false}, "axis": null},
    "y": {"field": "z", "type": "quantitative", "scale": {"domain": [-0.0951, 0.1053], "nice": false, "zero": false}, "axis": {"values": [-0.09, -0.06, -0.03, 0, 0.03, 0.06, 0.09], "labelExpr": "replace(format(datum.value, '.2f'), '-', '\u2212')", "title": null, "minExtent": 50, "maxExtent": 50}}
   }},
  {"data": {"values": [{"c": "C1.R18M..HNZ"}]}, "mark": {"type": "rect", "fill": "white", "stroke": "#6a6a6a", "strokeWidth": 1, "cornerRadius": 3},
   "encoding": {"x": {"datum": 16.27, "axis": null}, "x2": {"datum": 38.2}, "y": {"datum": 0.0979, "axis": {"values": [-0.09, -0.06, -0.03, 0, 0.03, 0.06, 0.09], "labelExpr": "replace(format(datum.value, '.2f'), '-', '\u2212')", "title": null, "minExtent": 50, "maxExtent": 50}}, "y2": {"datum": 0.0797}}},
  {"data": {"values": [{"c": "C1.R18M..HNZ"}]}, "mark": {"type": "text", "font": "DejaVu Sans", "fontSize": 11.5, "color": "#4d4d4d", "align": "left", "baseline": "middle"},
   "encoding": {"x": {"datum": 17.22, "axis": null}, "y": {"datum": 0.0888, "axis": {"values": [-0.09, -0.06, -0.03, 0, 0.03, 0.06, 0.09], "labelExpr": "replace(format(datum.value, '.2f'), '-', '\u2212')", "title": null, "minExtent": 50, "maxExtent": 50}}, "text": {"field": "c"}}}
 ]
},
{
 "width": 680, "height": 216,
 "layer": [
  {"data": {"values": [{"w": "CSN"}]}, "mark": {"type": "text", "font": "Liberation Sans", "fontSize": 62, "fontWeight": "bold", "fontStyle": "italic", "color": "#f8f8f8", "align": "center", "baseline": "alphabetic"},
   "encoding": {"x": {"datum": 114.8, "axis": null}, "y": {"datum": -0.0307, "axis": {"values": [-0.09, -0.06, -0.03, 0, 0.03, 0.06, 0.09], "labelExpr": "replace(format(datum.value, '.2f'), '-', '\u2212')", "title": null, "minExtent": 50, "maxExtent": 50}}, "text": {"field": "w"}}},
  {"data": {"values": [{"w": "CENTRO SISMOLÓGICO NACIONAL"}]}, "mark": {"type": "text", "font": "Roboto", "fontSize": 15, "fontStyle": "italic", "color": "#f8f8f8", "align": "left", "baseline": "top", "lineHeight": 21},
   "encoding": {"x": {"datum": 120.5, "axis": null}, "y": {"datum": -0.0428, "axis": {"values": [-0.09, -0.06, -0.03, 0, 0.03, 0.06, 0.09], "labelExpr": "replace(format(datum.value, '.2f'), '-', '\u2212')", "title": null, "minExtent": 50, "maxExtent": 50}}, "text": {"value": ["CENTRO SISMOLÓGICO NACIONAL", "UNIVERSIDAD DE CHILE"]}}},
  {"data": {"name": "w"}, "mark": {"type": "area", "color": "#4a4a4a", "clip": true},
   "encoding": {
    "x": {"field": "t", "type": "quantitative", "scale": {"domain": [14, 174.995], "nice": false, "zero": false}, "axis": null},
    "y": {"field": "n", "type": "quantitative", "scale": {"domain": [-0.0991, 0.1004], "nice": false, "zero": false}, "axis": {"values": [-0.09, -0.06, -0.03, 0, 0.03, 0.06, 0.09], "labelExpr": "replace(format(datum.value, '.2f'), '-', '\u2212')", "title": null, "minExtent": 50, "maxExtent": 50}},
    "y2": {"datum": 0}
   }},
  {"data": {"name": "w2"}, "mark": {"type": "line", "color": "#4a4a4a", "strokeWidth": 1.4, "strokeJoin": "bevel", "clip": true},
   "encoding": {
    "x": {"field": "t", "type": "quantitative", "scale": {"domain": [14, 174.995], "nice": false, "zero": false}, "axis": null},
    "y": {"field": "n", "type": "quantitative", "scale": {"domain": [-0.0991, 0.1004], "nice": false, "zero": false}, "axis": {"values": [-0.09, -0.06, -0.03, 0, 0.03, 0.06, 0.09], "labelExpr": "replace(format(datum.value, '.2f'), '-', '\u2212')", "title": null, "minExtent": 50, "maxExtent": 50}}
   }},
  {"data": {"name": "w"}, "mark": {"type": "line", "color": "#4a4a4a", "strokeWidth": 1.4, "strokeJoin": "bevel", "clip": true},
   "encoding": {
    "x": {"field": "t", "type": "quantitative", "scale": {"domain": [14, 174.995], "nice": false, "zero": false}, "axis": null},
    "y": {"field": "n", "type": "quantitative", "scale": {"domain": [-0.0991, 0.1004], "nice": false, "zero": false}, "axis": {"values": [-0.09, -0.06, -0.03, 0, 0.03, 0.06, 0.09], "labelExpr": "replace(format(datum.value, '.2f'), '-', '\u2212')", "title": null, "minExtent": 50, "maxExtent": 50}}
   }},
  {"data": {"values": [{"c": "C1.R18M..HNN"}]}, "mark": {"type": "rect", "fill": "white", "stroke": "#6a6a6a", "strokeWidth": 1, "cornerRadius": 3},
   "encoding": {"x": {"datum": 16.27, "axis": null}, "x2": {"datum": 38.2}, "y": {"datum": 0.0930, "axis": {"values": [-0.09, -0.06, -0.03, 0, 0.03, 0.06, 0.09], "labelExpr": "replace(format(datum.value, '.2f'), '-', '\u2212')", "title": null, "minExtent": 50, "maxExtent": 50}}, "y2": {"datum": 0.0748}}},
  {"data": {"values": [{"c": "C1.R18M..HNN"}]}, "mark": {"type": "text", "font": "DejaVu Sans", "fontSize": 11.5, "color": "#4d4d4d", "align": "left", "baseline": "middle"},
   "encoding": {"x": {"datum": 17.22, "axis": null}, "y": {"datum": 0.0839, "axis": {"values": [-0.09, -0.06, -0.03, 0, 0.03, 0.06, 0.09], "labelExpr": "replace(format(datum.value, '.2f'), '-', '\u2212')", "title": null, "minExtent": 50, "maxExtent": 50}}, "text": {"field": "c"}}}
 ]
},
{
 "width": 680, "height": 217,
 "layer": [
  {"data": {"values": [{"w": "CSN"}]}, "mark": {"type": "text", "font": "Liberation Sans", "fontSize": 62, "fontWeight": "bold", "fontStyle": "italic", "color": "#f8f8f8", "align": "center", "baseline": "alphabetic"},
   "encoding": {"x": {"datum": 114.8, "axis": {"values": [30, 60, 90, 120, 150], "labelExpr": "datum.value == 30 ? '2015-09-19T12:52:30' : datum.value == 60 ? '12:53:00' : datum.value == 90 ? '12:53:30' : datum.value == 120 ? '12:54:00' : '12:54:30'", "title": null, "labelOverlap": false, "labelFlush": false}}, "y": {"datum": -0.0271, "axis": {"values": [-0.09, -0.06, -0.03, 0, 0.03, 0.06, 0.09], "labelExpr": "replace(format(datum.value, '.2f'), '-', '\u2212')", "title": null, "minExtent": 50, "maxExtent": 50}}, "text": {"field": "w"}}},
  {"data": {"values": [{"w": "CENTRO SISMOLÓGICO NACIONAL"}]}, "mark": {"type": "text", "font": "Roboto", "fontSize": 15, "fontStyle": "italic", "color": "#f8f8f8", "align": "left", "baseline": "top", "lineHeight": 21},
   "encoding": {"x": {"datum": 120.5, "axis": {"values": [30, 60, 90, 120, 150], "labelExpr": "datum.value == 30 ? '2015-09-19T12:52:30' : datum.value == 60 ? '12:53:00' : datum.value == 90 ? '12:53:30' : datum.value == 120 ? '12:54:00' : '12:54:30'", "title": null, "labelOverlap": false, "labelFlush": false}}, "y": {"datum": -0.0391, "axis": {"values": [-0.09, -0.06, -0.03, 0, 0.03, 0.06, 0.09], "labelExpr": "replace(format(datum.value, '.2f'), '-', '\u2212')", "title": null, "minExtent": 50, "maxExtent": 50}}, "text": {"value": ["CENTRO SISMOLÓGICO NACIONAL", "UNIVERSIDAD DE CHILE"]}}},
  {"data": {"name": "w"}, "mark": {"type": "area", "color": "#4a4a4a", "clip": true},
   "encoding": {
    "x": {"field": "t", "type": "quantitative", "scale": {"domain": [14, 174.995], "nice": false, "zero": false}, "axis": {"values": [30, 60, 90, 120, 150], "labelExpr": "datum.value == 30 ? '2015-09-19T12:52:30' : datum.value == 60 ? '12:53:00' : datum.value == 90 ? '12:53:30' : datum.value == 120 ? '12:54:00' : '12:54:30'", "title": null, "labelOverlap": false, "labelFlush": false}},
    "y": {"field": "e", "type": "quantitative", "scale": {"domain": [-0.0963, 0.1041], "nice": false, "zero": false}, "axis": {"values": [-0.09, -0.06, -0.03, 0, 0.03, 0.06, 0.09], "labelExpr": "replace(format(datum.value, '.2f'), '-', '\u2212')", "title": null, "minExtent": 50, "maxExtent": 50}},
    "y2": {"datum": 0}
   }},
  {"data": {"name": "w2"}, "mark": {"type": "line", "color": "#4a4a4a", "strokeWidth": 1.4, "strokeJoin": "bevel", "clip": true},
   "encoding": {
    "x": {"field": "t", "type": "quantitative", "scale": {"domain": [14, 174.995], "nice": false, "zero": false}, "axis": {"values": [30, 60, 90, 120, 150], "labelExpr": "datum.value == 30 ? '2015-09-19T12:52:30' : datum.value == 60 ? '12:53:00' : datum.value == 90 ? '12:53:30' : datum.value == 120 ? '12:54:00' : '12:54:30'", "title": null, "labelOverlap": false, "labelFlush": false}},
    "y": {"field": "e", "type": "quantitative", "scale": {"domain": [-0.0963, 0.1041], "nice": false, "zero": false}, "axis": {"values": [-0.09, -0.06, -0.03, 0, 0.03, 0.06, 0.09], "labelExpr": "replace(format(datum.value, '.2f'), '-', '\u2212')", "title": null, "minExtent": 50, "maxExtent": 50}}
   }},
  {"data": {"name": "w"}, "mark": {"type": "line", "color": "#4a4a4a", "strokeWidth": 1.4, "strokeJoin": "bevel", "clip": true},
   "encoding": {
    "x": {"field": "t", "type": "quantitative", "scale": {"domain": [14, 174.995], "nice": false, "zero": false}, "axis": {"values": [30, 60, 90, 120, 150], "labelExpr": "datum.value == 30 ? '2015-09-19T12:52:30' : datum.value == 60 ? '12:53:00' : datum.value == 90 ? '12:53:30' : datum.value == 120 ? '12:54:00' : '12:54:30'", "title": null, "labelOverlap": false, "labelFlush": false}},
    "y": {"field": "e", "type": "quantitative", "scale": {"domain": [-0.0963, 0.1041], "nice": false, "zero": false}, "axis": {"values": [-0.09, -0.06, -0.03, 0, 0.03, 0.06, 0.09], "labelExpr": "replace(format(datum.value, '.2f'), '-', '\u2212')", "title": null, "minExtent": 50, "maxExtent": 50}}
   }},
  {"data": {"values": [{"c": "C1.R18M..HNE"}]}, "mark": {"type": "rect", "fill": "white", "stroke": "#6a6a6a", "strokeWidth": 1, "cornerRadius": 3},
   "encoding": {"x": {"datum": 16.27, "axis": {"values": [30, 60, 90, 120, 150], "labelExpr": "datum.value == 30 ? '2015-09-19T12:52:30' : datum.value == 60 ? '12:53:00' : datum.value == 90 ? '12:53:30' : datum.value == 120 ? '12:54:00' : '12:54:30'", "title": null, "labelOverlap": false, "labelFlush": false}}, "x2": {"datum": 38.2}, "y": {"datum": 0.0967, "axis": {"values": [-0.09, -0.06, -0.03, 0, 0.03, 0.06, 0.09], "labelExpr": "replace(format(datum.value, '.2f'), '-', '\u2212')", "title": null, "minExtent": 50, "maxExtent": 50}}, "y2": {"datum": 0.0785}}},
  {"data": {"values": [{"c": "C1.R18M..HNE"}]}, "mark": {"type": "text", "font": "DejaVu Sans", "fontSize": 11.5, "color": "#4d4d4d", "align": "left", "baseline": "middle"},
   "encoding": {"x": {"datum": 17.22, "axis": {"values": [30, 60, 90, 120, 150], "labelExpr": "datum.value == 30 ? '2015-09-19T12:52:30' : datum.value == 60 ? '12:53:00' : datum.value == 90 ? '12:53:30' : datum.value == 120 ? '12:54:00' : '12:54:30'", "title": null, "labelOverlap": false, "labelFlush": false}}, "y": {"datum": 0.0876, "axis": {"values": [-0.09, -0.06, -0.03, 0, 0.03, 0.06, 0.09], "labelExpr": "replace(format(datum.value, '.2f'), '-', '\u2212')", "title": null, "minExtent": 50, "maxExtent": 50}}, "text": {"field": "c"}}}
 ]
}
]
}
